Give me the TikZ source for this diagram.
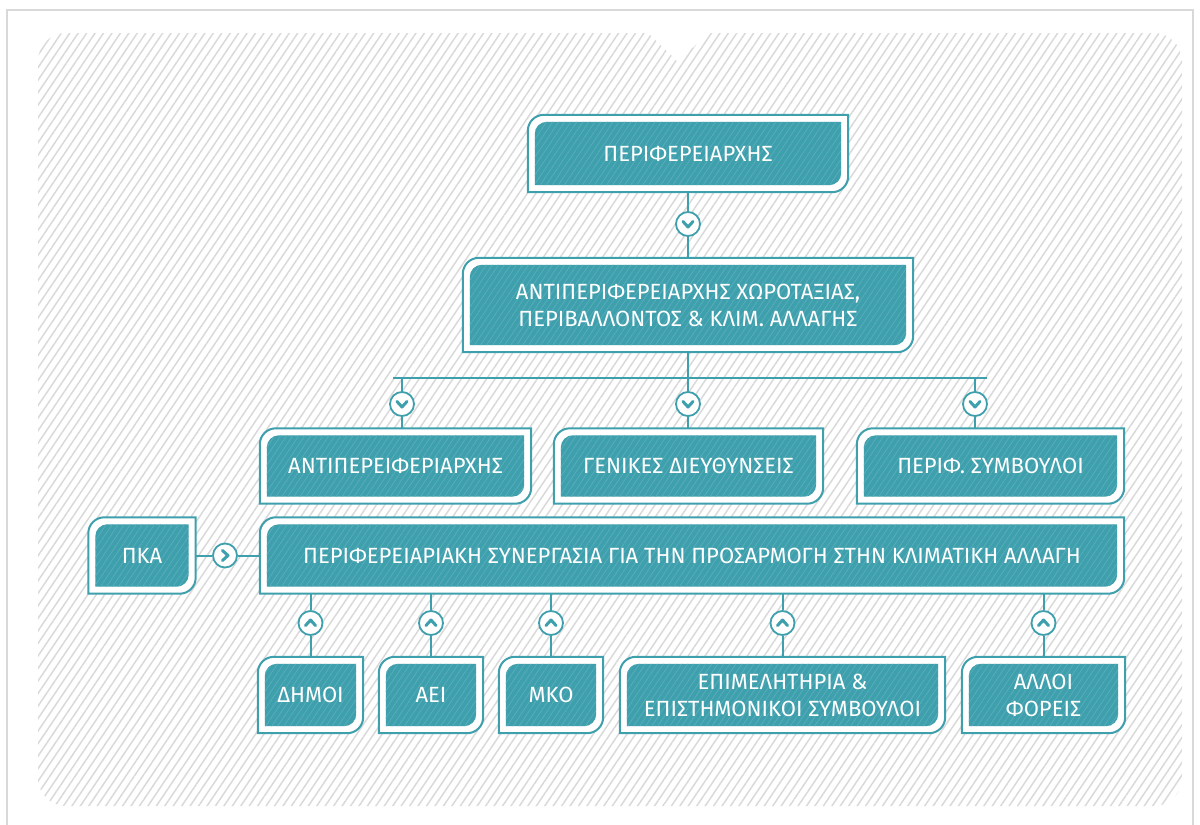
\documentclass[tikz,border=0pt]{standalone}
\usepackage{fontspec}
\setmainfont{Fira Sans}
\usepackage{xcolor}
\usetikzlibrary{positioning,backgrounds,patterns.meta}
\definecolor{unitteal}{HTML}{3E9FAD}
\definecolor{unitstripe}{HTML}{58ADBA}
\definecolor{paperstripe}{HTML}{D9D9D9}

\begin{document}
\begin{tikzpicture}[x=1pt,y=-1pt,
    unit/.style={align=center,text=white,inner sep=0pt,
      font=\fontsize{22}{27}\selectfont},
    link/.style={draw=unitteal,line width=2pt},
    joint/.style={circle,draw=unitteal,line width=1.8pt,fill=white,
      minimum size=24pt,inner sep=0pt},
    jdown/.style={path picture={\draw[unitteal,line width=3pt,line cap=round,line join=round]
      ([shift={(-5,-2.5)}]path picture bounding box.center) -- ++(5,5.5) -- ++(5,-5.5);}},
    jup/.style={path picture={\draw[unitteal,line width=3pt,line cap=round,line join=round]
      ([shift={(-5,2.5)}]path picture bounding box.center) -- ++(5,-5.5) -- ++(5,5.5);}},
    jright/.style={path picture={\draw[unitteal,line width=3pt,line cap=round,line join=round]
      ([shift={(-2.5,-5)}]path picture bounding box.center) -- ++(5.5,5) -- ++(-5.5,5);}},
    frame/.style={draw=unitteal,line width=2pt,fill=white},
    inner/.style={preaction={fill=unitteal},
      pattern={Lines[angle=56,distance=5pt,line width=.8pt]},pattern color=unitstripe},
    paper/.style={pattern={Lines[angle=56,distance=7pt,line width=1.5pt]},pattern color=paperstripe}]
  \useasboundingbox (0,0) rectangle (1200,825);

  % the units
  \node[unit,minimum width=320,minimum height=77] (chief) at (688,153.5) {ΠΕΡΙΦΕΡΕΙΑΡΧΗΣ};
  \node[unit,minimum width=450,minimum height=94] (deputy) at (688,305)
     {ΑΝΤΙΠΕΡΙΦΕΡΕΙΑΡΧΗΣ ΧΩΡΟΤΑΞΙΑΣ,\\ΠΕΡΙΒΑΛΛΟΝΤΟΣ \& ΚΛΙΜ. ΑΛΛΑΓΗΣ};
  \node[unit,minimum width=271,minimum height=75] (ant) at (395.5,466) {ΑΝΤΙΠΕΡΕΙΦΕΡΙΑΡΧΗΣ};
  \node[unit,minimum width=269,minimum height=75] (gen) at (688.5,466) {ΓΕΝΙΚΕΣ ΔΙΕΥΘΥΝΣΕΙΣ};
  \node[unit,minimum width=267,minimum height=75] (per) at (990.5,466) {ΠΕΡΙΦ. ΣΥΜΒΟΥΛΟΙ};
  \node[unit,minimum width=107,minimum height=76] (pka) at (142,555.5) {ΠΚΑ};
  \node[unit,minimum width=864,minimum height=76] (syn) at (692,555.5)
     {ΠΕΡΙΦΕΡΕΙΑΡΙΑΚΗ ΣΥΝΕΡΓΑΣΙΑ ΓΙΑ ΤΗΝ ΠΡΟΣΑΡΜΟΓΗ ΣΤΗΝ ΚΛΙΜΑΤΙΚΗ ΑΛΛΑΓΗ};
  \node[unit,minimum width=105,minimum height=76] (dim) at (310.5,695) {ΔΗΜΟΙ};
  \node[unit,minimum width=104,minimum height=76] (aei) at (431,695) {ΑΕΙ};
  \node[unit,minimum width=104,minimum height=76] (mko) at (551,695) {ΜΚΟ};
  \node[unit,minimum width=325,minimum height=76] (epi) at (782.5,695)
     {ΕΠΙΜΕΛΗΤΗΡΙΑ \&\\ΕΠΙΣΤΗΜΟΝΙΚΟΙ ΣΥΜΒΟΥΛΟΙ};
  \node[unit,minimum width=163,minimum height=76] (oth) at (1043.5,695) {ΑΛΛΟΙ\\ΦΟΡΕΙΣ};

  % joints
  \node[joint,jdown] (j0) at (688,224) {};
  \node[joint,jdown] (j1) at (402,404) {};
  \node[joint,jdown] (j2) at (688,404) {};
  \node[joint,jdown] (j3) at (975,404) {};
  \node[joint,jright] (j4) at (225,555.5) {};
  \foreach \i/\x in {5/310.5,6/431,7/551,8/782.5,9/1043.5}
    \node[joint,jup] (j\i) at (\x,623) {};

  % connectors
  \coordinate (busL) at (393,378);
  \coordinate (busR) at (987,378);
  \draw[link] (chief) -- (j0) -- (deputy);
  \draw[link] (deputy) -- (deputy |- busL);
  \draw[link] (busL) -- (busR);
  \foreach \j/\b in {j1/ant,j2/gen,j3/per}
    \draw[link] (\j |- busL) -- (\j) -- (\j |- \b.north);
  \draw[link] (pka) -- (j4) -- (syn);
  \foreach \j/\b in {j5/dim,j6/aei,j7/mko,j8/epi,j9/oth}
    \draw[link] (\j |- syn.south) -- (\j) -- (\b);

  \begin{scope}[on background layer]
    \draw[gray!30,line width=1.5pt] (7,10) rectangle (1193,840);
    \path[paper] (38,400) [rounded corners=28] -- (38,33) [sharp corners] -- (648,33) -- (678,62)
       -- (708,33) [rounded corners=28] -- (1182,33) -- (1182,806) -- (38,806) -- cycle;
    % frames: round corners top left and bottom right only
    \foreach \n in {chief,deputy,ant,gen,per,pka,syn,dim,aei,mko,epi,oth}{
      \draw[frame] (\n.south west) -- ([shift={(0,16)}]\n.north west)
         .. controls ([shift={(0,7.2)}]\n.north west) and ([shift={(7.2,0)}]\n.north west)
         .. ([shift={(16,0)}]\n.north west) -- (\n.north east) -- ([shift={(0,-16)}]\n.south east)
         .. controls ([shift={(0,-7.2)}]\n.south east) and ([shift={(-7.2,0)}]\n.south east)
         .. ([shift={(-16,0)}]\n.south east) -- cycle;
      \path[inner] ([shift={(7,-7)}]\n.south west) -- ([shift={(7,19)}]\n.north west)
         .. controls ([shift={(7,12.4)}]\n.north west) and ([shift={(12.4,7)}]\n.north west)
         .. ([shift={(19,7)}]\n.north west) -- ([shift={(-7,7)}]\n.north east) -- ([shift={(-7,-19)}]\n.south east)
         .. controls ([shift={(-7,-12.4)}]\n.south east) and ([shift={(-12.4,-7)}]\n.south east)
         .. ([shift={(-19,-7)}]\n.south east) -- cycle;
    }
  \end{scope}
\end{tikzpicture}
\end{document}
